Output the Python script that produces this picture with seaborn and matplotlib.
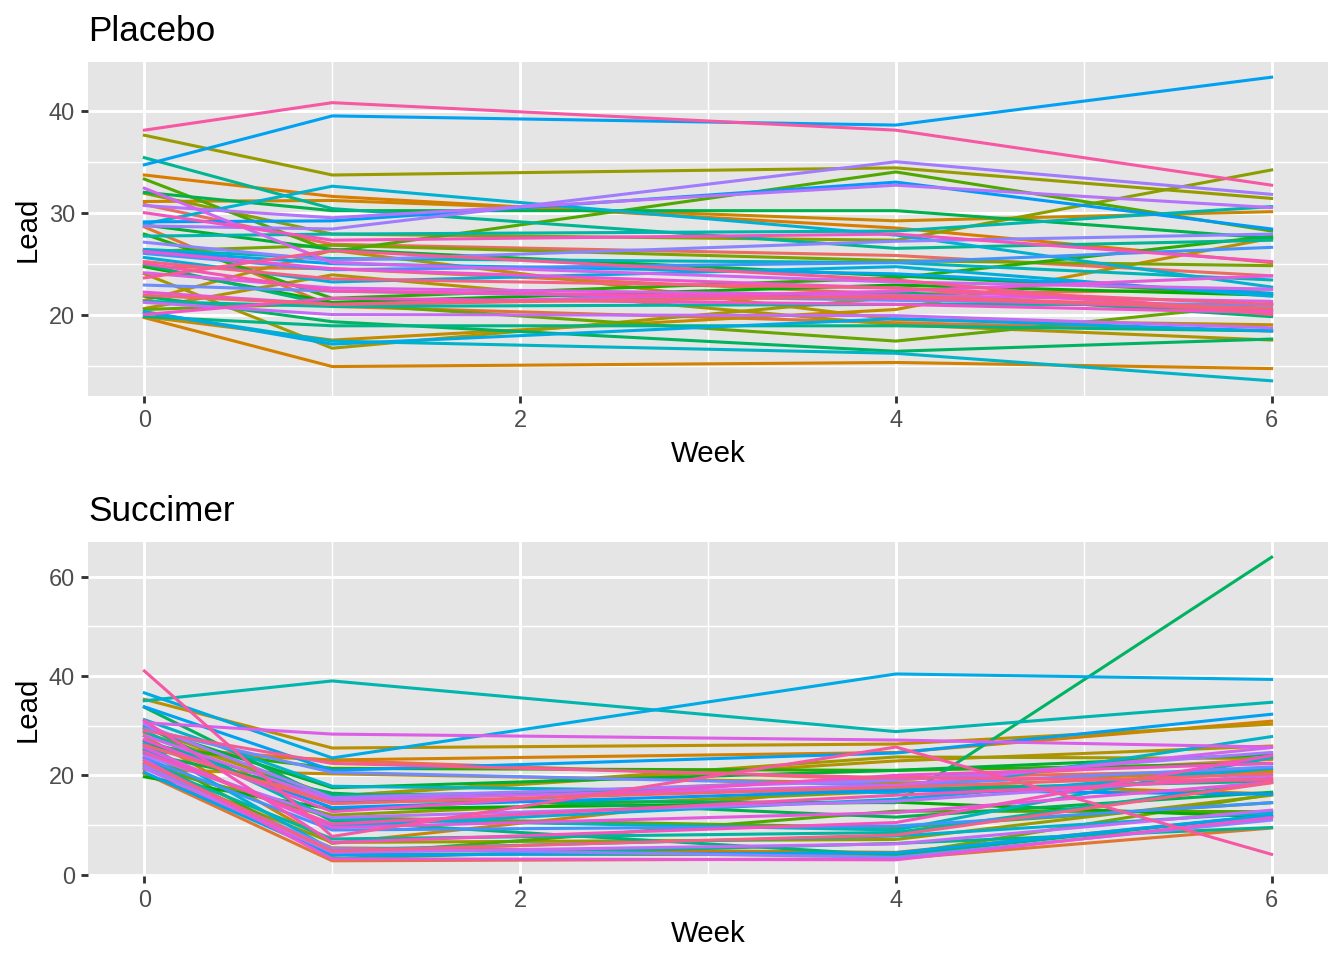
import numpy as np
import pandas as pd
import matplotlib
matplotlib.use('Agg')
import matplotlib.pyplot as plt
import seaborn as sns

# Data: blood lead level per child at each week (one entry per child)
weeks = [0, 1, 4, 6]

placebo_w0 = [30.8, 24.7, 28.6, 33.7, 19.7, 31.1, 19.8, 21.4, 20.6, 24.0,
              37.6, 31.9, 26.2, 20.5, 33.3, 27.9, 24.7, 28.8, 32.0, 21.8,
              24.9, 19.8, 35.4, 21.3, 27.7, 26.4, 20.2, 28.9, 25.6, 20.3,
              26.3, 34.7, 29.1, 26.0, 22.9, 27.1, 28.7, 30.7, 21.2, 32.4,
              24.1, 22.2, 26.2, 20.0, 30.0, 25.0, 38.1, 23.6, 25.2, 21.9]
placebo_w1 = [26.9, 24.5, 20.8, 31.6, 14.9, 31.2, 17.5, 26.3, 23.9, 16.7,
              33.7, 27.9, 26.8, 21.1, 26.2, 21.6, 21.2, 26.4, 30.2, 19.3,
              20.9, 18.9, 30.4, 20.8, 27.9, 25.5, 17.4, 32.6, 23.2, 17.1,
              25.0, 39.5, 29.2, 24.4, 22.3, 25.3, 28.4, 29.5, 20.0, 25.1,
              22.6, 21.0, 24.5, 21.6, 27.3, 22.3, 40.8, 26.3, 23.5, 21.0]
placebo_w4 = [25.8, 22.0, 19.2, 28.5, 15.3, 29.2, 20.5, 19.5, 19.0, 21.7,
              34.4, 27.3, 25.3, 17.4, 34.0, 23.6, 22.9, 23.8, 30.2, 16.4,
              22.2, 18.9, 26.5, 21.0, 28.2, 25.1, 16.2, 27.8, 24.7, 19.6,
              24.0, 38.6, 33.0, 25.1, 21.4, 27.2, 35.0, 32.7, 19.9, 23.2,
              21.9, 22.3, 22.6, 21.0, 27.9, 21.6, 38.1, 23.4, 22.6, 21.8]
placebo_w6 = [23.8, 22.5, 18.4, 25.1, 14.7, 30.1, 27.5, 19.0, 17.5, 20.3,
              31.4, 34.2, 24.8, 21.1, 28.2, 27.7, 21.9, 22.0, 27.5, 17.6,
              19.8, 18.4, 27.3, 21.0, 30.6, 23.4, 13.5, 22.7, 21.8, 18.4,
              22.1, 43.3, 28.4, 26.6, 20.9, 27.9, 31.8, 30.5, 18.7, 22.5,
              21.3, 23.8, 20.4, 20.2, 25.2, 20.5, 32.7, 20.0, 21.0, 20.6]

succimer_w0 = [26.5, 25.8, 20.4, 20.4, 24.8, 27.9, 21.1, 35.3, 28.6, 29.6,
               21.5, 21.8, 23.0, 22.2, 25.0, 26.0, 19.7, 29.6, 24.4, 33.7,
               30.0, 26.9, 23.6, 22.4, 35.0, 28.9, 31.2, 26.4, 25.3, 36.6,
               20.6, 33.8, 27.0, 23.5, 29.4, 22.0, 30.2, 24.0, 21.4, 28.0,
               30.6, 25.6, 23.1, 27.2, 31.0, 24.7, 41.0, 29.0, 22.6, 26.1]
succimer_w1 = [14.8, 23.0, 2.8, 5.4, 23.1, 6.3, 20.3, 25.5, 15.8, 15.8,
               6.5, 12.0, 4.2, 11.5, 3.9, 21.4, 13.2, 17.5, 16.4, 14.9,
               10.8, 16.0, 3.3, 7.2, 39.0, 11.2, 17.8, 5.0, 9.8, 23.5,
               4.0, 21.0, 13.5, 9.0, 20.6, 5.3, 15.5, 11.5, 4.5, 15.0,
               28.3, 9.5, 3.2, 12.7, 6.5, 10.2, 7.7, 22.4, 4.8, 14.3]
succimer_w4 = [19.5, 19.1, 3.2, 4.5, 24.6, 18.5, 18.4, 26.3, 22.9, 23.7,
               7.1, 16.8, 4.0, 9.5, 12.8, 21.0, 14.6, 21.0, 11.6, 14.5,
               3.9, 17.2, 6.3, 8.5, 28.8, 9.0, 16.5, 7.8, 15.2, 40.4,
               4.4, 24.5, 17.0, 9.8, 18.0, 3.5, 19.0, 14.8, 6.2, 18.0,
               27.1, 12.5, 3.0, 20.0, 10.5, 16.0, 25.7, 19.5, 8.0, 17.6]
succimer_w6 = [21.0, 23.2, 9.4, 11.9, 30.9, 16.3, 20.8, 30.3, 25.9, 23.4,
               16.0, 19.2, 16.2, 14.5, 12.7, 22.4, 11.6, 24.2, 16.6, 63.9,
               12.0, 18.8, 9.5, 18.7, 34.7, 23.6, 27.8, 12.5, 21.4, 39.3,
               12.0, 32.3, 16.2, 14.5, 21.7, 11.0, 24.6, 20.0, 13.0, 25.6,
               25.7, 18.6, 11.5, 22.4, 24.0, 19.4, 4.1, 19.0, 18.5, 20.3]


def hue_pal(n, l=61, c=100):
    # ggplot2-style discrete palette (hcl, polarLUV -> sRGB)
    h = np.deg2rad(15 + np.arange(n) * 360 / n)
    xn, yn, zn = 95.047, 100.0, 108.883
    un = 4 * xn / (xn + 15 * yn + 3 * zn)
    vn = 9 * yn / (xn + 15 * yn + 3 * zn)
    y = np.full(n, yn * ((l + 16) / 116) ** 3)
    u = c * np.cos(h) / (13 * l) + un
    v = c * np.sin(h) / (13 * l) + vn
    x = 9 * y * u / (4 * v)
    z = y * (12 - 3 * u - 20 * v) / (4 * v)
    xyz = np.stack([x, y, z], axis=1) / 100
    m = np.array([[3.240479, -1.537150, -0.498535],
                  [-0.969256, 1.875992, 0.041556],
                  [0.055648, -0.204043, 1.057311]])
    rgb = xyz @ m.T
    rgb = np.where(rgb > 0.00304, 1.055 * np.abs(rgb) ** (1 / 2.4) - 0.055, 12.92 * rgb)
    return [tuple(col) for col in np.clip(rgb, 0, 1)]


def to_long(w0, w1, w4, w6):
    wide = pd.DataFrame({0: w0, 1: w1, 4: w4, 6: w6})
    wide['id'] = ['c%02d' % i for i in range(len(wide))]
    return wide.melt(id_vars='id', var_name='Week', value_name='Lead')


placebo = to_long(placebo_w0, placebo_w1, placebo_w4, placebo_w6)
succimer = to_long(succimer_w0, succimer_w1, succimer_w4, succimer_w6)

sns.set_style({'axes.facecolor': '#E5E5E5', 'axes.edgecolor': '#E5E5E5',
               'grid.color': 'white', 'axes.grid': True})
plt.rcParams['font.family'] = ['Liberation Sans', 'DejaVu Sans']

fig, axes = plt.subplots(2, 1, figsize=(7, 5), dpi=192)
axes[0].set_position([88 / 1344, 1 - 396 / 960, 1240 / 1344, 334 / 960])
axes[1].set_position([88 / 1344, 1 - 876 / 960, 1240 / 1344, 334 / 960])

panels = [(axes[0], placebo, 'Placebo', [20, 30, 40], [15, 25, 35]),
          (axes[1], succimer, 'Succimer', [0, 20, 40, 60], [10, 30, 50])]

for ax, df, title, major, minor in panels:
    ids = list(df['id'].unique())
    pal = dict(zip(ids, hue_pal(len(ids))))
    sns.lineplot(data=df, x='Week', y='Lead', hue='id', hue_order=ids,
                 palette=pal, estimator=None, legend=False, linewidth=1.15, ax=ax)
    lo, hi = df['Lead'].min(), df['Lead'].max()
    pad = (hi - lo) * 0.05
    ax.set_ylim(lo - pad, hi + pad)
    ax.set_xlim(-0.3, 6.3)
    ax.set_xticks([0, 2, 4, 6])
    ax.set_xticks([1, 3, 5], minor=True)
    ax.set_yticks(major)
    ax.set_yticks(minor, minor=True)
    ax.grid(which='major', color='white', linewidth=1.07)
    ax.grid(which='minor', color='white', linewidth=0.53)
    ax.set_axisbelow(True)
    for s in ax.spines.values():
        s.set_visible(False)
    ax.tick_params(which='major', length=2.75, width=1.07, color='#333333',
                   labelsize=8.8, labelcolor='#4D4D4D', pad=2.2)
    ax.tick_params(which='minor', length=0)
    ax.set_xlabel('Week', fontsize=11, labelpad=2.75)
    ax.set_ylabel('Lead', fontsize=11, labelpad=2.75)
    ax.set_title(title, loc='left', fontsize=13.2, pad=8)

plt.savefig('out.png', dpi=192)
